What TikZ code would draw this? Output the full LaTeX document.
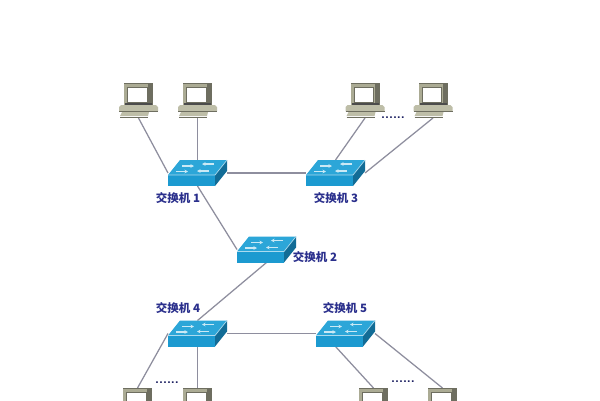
\documentclass[tikz,border=0pt]{standalone}
\usepackage{fontspec}
\usetikzlibrary{arrows.meta}
\newfontfamily\cjk{Noto Sans CJK SC}
\definecolor{wire}{HTML}{8E8E9E}
\definecolor{caption}{HTML}{2A2F8C}
\definecolor{pcbody}{HTML}{ABAB94}
\definecolor{pcshade}{HTML}{6E6E60}
\definecolor{pcbase}{HTML}{BEBEA8}
\definecolor{swtop}{HTML}{2CA6D8}
\definecolor{swfront}{HTML}{1C9AD0}
\definecolor{swside}{HTML}{126C96}
\tikzset{
  x=1pt, y=-1pt,
  switchbox/.style={minimum width=59pt, minimum height=26pt, inner sep=0pt, outer sep=0pt},
  pcbox/.style={minimum width=39pt, minimum height=35pt, inner sep=0pt, outer sep=0pt},
  link/.style={draw=wire, line width=1.25pt},
  devicename/.style={text=caption, font=\cjk\bfseries\fontsize{11.5}{13}\selectfont, inner sep=0pt},
  gapdots/.style={text=caption!70!black, font=\sffamily\bfseries\fontsize{13}{13}\selectfont, inner sep=0pt},
  flowarrow/.style={white!75!swtop, line width=1.2pt, -{Stealth[length=3.5pt,width=3.5pt]}},
  switchicon/.pic={
    \fill[swtop] (0,15) -- (12,0) -- (59,0) -- (47,15) -- cycle;
    \fill[swfront] (0,15) rectangle (47,26);
    \fill[swside] (47,15) -- (59,0) -- (59,11) -- (47,26) -- cycle;
    \draw[white!60!swtop, line width=0.7pt] (0,15) -- (47,15) -- (59,0);
    \draw[flowarrow] (14,6) -- (26,6);
    \draw[flowarrow] (46,4) -- (34,4);
    \draw[flowarrow] (8,11.5) -- (20,11.5);
    \draw[flowarrow] (41,11) -- (29,11);
  },
  pcicon/.pic={
    \fill[pcbody] (5,0) rectangle (34,22);
    \fill[pcshade] (29,0) rectangle (34,22);
    \fill[pcshade] (5,0) rectangle (34,1.2);
    \fill[white] (8.5,4) rectangle (28,19);
    \draw[pcshade, line width=0.7pt] (8.5,4) rectangle (28,19);
    \fill[pcbase] (2,22) -- (37,22) -- (39,24) -- (39,28) -- (0,28) -- (0,24) -- cycle;
    \fill[black!70] (6,20) rectangle (33,22);
    \draw[pcshade, line width=0.7pt] (0,28) -- (39,28);
    \fill[pcbase] (3,29) -- (30,29) -- (29,33) -- (1,33) -- cycle;
    \draw[pcshade, line width=0.7pt] (1,34) -- (29,34);
  },
}
\begin{document}
\begin{tikzpicture}
\clip (0,0) rectangle (600,400);
\fill[white] (0,0) rectangle (600,400);

% Device footprints
\node[switchbox] (s1) at (197.5,173) {};
\node[switchbox] (s2) at (266.5,249.5) {};
\node[switchbox] (s3) at (335.5,173) {};
\node[switchbox] (s4) at (197.5,333.5) {};
\node[switchbox] (s5) at (345.5,333.5) {};
\node[pcbox] (p1) at (138.5,100.5) {};
\node[pcbox] (p2) at (197.5,100.5) {};
\node[pcbox] (p3) at (365,100.5) {};
\node[pcbox] (p4) at (433,100.5) {};
\node[pcbox] (p5) at (137.5,405.5) {};
\node[pcbox] (p6) at (197.5,405.5) {};
\node[pcbox] (p7) at (373.5,405.5) {};
\node[pcbox] (p8) at (442.5,405.5) {};

% Cabling
\draw[link] (p1.south) -- (s1.west);
\draw[link] (p2.south) -- (s1.north);
\draw[link] (s1.east) -- (s3.west);
\draw[link] (p3.south) -- (s3.north);
\draw[link] (p4.south) -- (s3.east);
\draw[link] (s1.south) -- (s2.west);
\draw[link] (s2.south) -- (s4.north);
\draw[link] (s4.east) -- (s5.west);
\draw[link] (s4.west) -- (p5.north);
\draw[link] (s4.south) -- (p6.north);
\draw[link] ([xshift=-10pt]s5.south) -- (p7.north);
\draw[link] (s5.east) -- (p8.north);

% Device icons
\foreach \s in {s1,s2,s3,s4,s5} \pic at (\s.north west) {switchicon};
\foreach \p in {p1,p2,p3,p4,p5,p6,p7,p8} \pic at (\p.north west) {pcicon};

% Captions
\node[devicename] (l1) at (178,198) {交换机 1};
\node[devicename] (l3) at (336,198) {交换机 3};
\node[devicename] (l2) at (315,257.5) {交换机 2};
\node[devicename] (l4) at (178,308) {交换机 4};
\node[devicename] (l5) at (345,308) {交换机 5};

% Elided hosts
\node[gapdots] (d1) at (393,118) {......};
\node[gapdots] (d2) at (167,383) {......};
\node[gapdots] (d3) at (403,382) {......};
\end{tikzpicture}
\end{document}
